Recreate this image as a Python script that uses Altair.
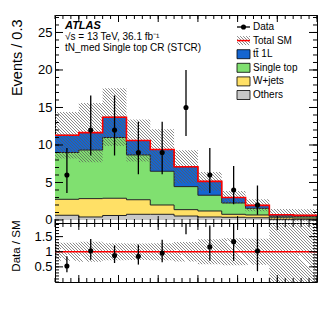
import altair as alt
import pandas as pd
import math

# ---------------- data ----------------
edges = [1.2, 1.5, 1.8, 2.1, 2.4, 2.7, 3.0, 3.3, 3.6, 3.9, 4.2, 4.5]
others    = [0.63, 0.40, 0.60, 0.76, 0.76, 0.53, 0.40, 0.36, 0.30, 0.05, 0.05]
wjets     = [2.13, 2.45, 2.30, 1.94, 1.24, 0.85, 0.80, 0.40, 0.37, 0.25, 0.20]
singletop = [6.24, 6.48, 8.10, 5.97, 4.50, 3.07, 2.10, 1.51, 0.88, 0.20, 0.20]
ttbar     = [2.30, 2.32, 2.70, 1.93, 2.90, 2.65, 1.85, 0.73, 0.40, 0.20, 0.17]
sm_unc    = [3.10, 3.95, 3.85, 2.80, 2.70, 2.20, 1.25, 0.87, 0.80, 0.76, 0.81]
ratio_unc = [0.30, 0.33, 0.28, 0.27, 0.28, 0.32, 0.41, 0.45, 0.43, 1.10, 1.10]
data      = [6, 12, 12, 9, 9, 15, 6, 4, 2, None, None]
data_hi   = [9.6, 16.6, 16.6, 13.1, 13.1, 20.0, 9.6, 7.2, 4.6, None, None]
data_lo   = [3.6, 8.6, 8.6, 6.1, 6.1, 11.2, 3.6, 2.1, 0.7, None, None]

comp_names  = ["Others", "W+jets", "Single top", "tt\u0304 1L"]      # stack order (bottom -> top)
comp_colors = ["#c8c8c8", "#ffe066", "#80e070", "#1565d0"]
legend_labels = ["Data", "Total SM", "tt\u0304 1L", "Single top", "W+jets", "Others"]
ann_text = ["ATLAS", "\u221as = 13 TeV, 36.1 fb\u207b\u00b9", "tN_med Single top CR (STCR)"]

x_major = [1.5, 2.0, 2.5, 3.0, 3.5, 4.0, 4.5]
main_y_major = [0, 5, 10, 15, 20, 25]
rat_y_major = [0.5, 1.0, 1.5]

# ---------------- layout ----------------
W, H_MAIN, H_RAT = 262, 208, 59
X_DOM = [1.2, 4.5]
Y_MAIN = [-0.4, 27.33]
Y_RAT = [0.0, 1.95]
FONT = "Liberation Sans"

n = len(edges) - 1
x_minor = [round(1.2 + 0.1 * i, 2) for i in range(34)]
main_y_minor = list(range(0, 28))
rat_y_minor = [round(0.1 * i, 2) for i in range(20)]

total = [a + b + c + d for a, b, c, d in zip(others, wjets, singletop, ttbar)]
centers = [(edges[i] + edges[i + 1]) / 2 for i in range(n)]


def step_idx(i):
    return min(i, n - 1)


# stacked components
rows = []
cum = [0.0] * n
for name, vals in zip(comp_names, [others, wjets, singletop, ttbar]):
    hi = [c + v for c, v in zip(cum, vals)]
    for i in range(n + 1):
        j = step_idx(i)
        rows.append(dict(x=edges[i], lo=cum[j], hi=hi[j], comp=name))
    cum = hi
stack_df = pd.DataFrame(rows)

tot_df = pd.DataFrame([dict(x=edges[i], v=total[step_idx(i)]) for i in range(n + 1)])
band_df = pd.DataFrame([dict(x=edges[i],
                             top=total[step_idx(i)] + sm_unc[step_idx(i)],
                             bot=max(total[step_idx(i)] - sm_unc[step_idx(i)], Y_MAIN[0]))
                        for i in range(n + 1)])
rband_df = pd.DataFrame([dict(x=edges[i],
                              top=min(1 + ratio_unc[step_idx(i)], Y_RAT[1]),
                              bot=max(1 - ratio_unc[step_idx(i)], Y_RAT[0]))
                         for i in range(n + 1)])

pts = pd.DataFrame(dict(xc=centers, d=data, hi=data_hi, lo=data_lo, tot=total)).dropna()
pts["r"] = pts["d"] / pts["tot"]
pts["rhi"] = pts["hi"] / pts["tot"]
pts["rlo"] = pts["lo"] / pts["tot"]


def hatch(Wb, Hb, period=3.0, frac=0.33, color="rgba(90,90,90,0.7)"):
    k = (Wb + Hb) / (Wb ** 2 + Hb ** 2)
    nper = (Wb + Hb) / period
    clear = "rgba(255,255,255,0)"
    stops = []
    i = 0
    while i / nper < 1:
        t0 = i / nper
        t1 = min((i + frac) / nper, 1.0)
        t2 = min((i + 1) / nper, 1.0)
        stops += [alt.GradientStop(offset=t0, color=color),
                  alt.GradientStop(offset=t1, color=color),
                  alt.GradientStop(offset=t1, color=clear),
                  alt.GradientStop(offset=t2, color=clear)]
        i += 1
    return alt.LinearGradient(gradient="linear", stops=stops,
                              x1=0, y1=1, x2=k * Wb, y2=1 - k * Hb)


def py(v, dom, H):
    return H * (dom[1] - v) / (dom[1] - dom[0])


xscale = alt.Scale(domain=X_DOM, nice=False, zero=False)
yscale_main = alt.Scale(domain=Y_MAIN, nice=False, zero=False)
yscale_rat = alt.Scale(domain=Y_RAT, nice=False, zero=False)

yaxis_main = alt.Axis(values=main_y_major, title="Events / 0.3", ticks=False, domain=False,
                      grid=False, labelFontSize=13, labelPadding=3, labelFont=FONT,
                      titleFont=FONT, titleFontSize=14.5, titleFontWeight="normal",
                      titleAngle=270, titleAlign="right", titleBaseline="alphabetic",
                      titleX=-34, titleY=4)
yaxis_rat = alt.Axis(values=rat_y_major, format="~g", title="Data / SM", ticks=False, domain=False,
                     grid=False, labelFontSize=13, labelPadding=3, labelFont=FONT,
                     titleFont=FONT, titleFontSize=11.5, titleFontWeight="normal",
                     titleAngle=270, titleAlign="right", titleBaseline="alphabetic",
                     titleX=-36, titleY=-3, labelFlush=False)
xaxis_rat = alt.Axis(values=x_major, format="~g", title="\u0394R(b\u2081, b\u2082)", ticks=False,
                     domain=False, grid=False, labelFontSize=13, labelPadding=0, labelFont=FONT,
                     labelFlush=False, labelOverlap=False,
                     titleFont=FONT, titleFontSize=13, titleFontWeight="normal",
                     titleAlign="right", titleBaseline="alphabetic", titleX=W + 4, titleY=29)


def X(f, axis=None):
    return alt.X(f, type="quantitative", scale=xscale, axis=axis)


def tick_layers(ymaj, ymin, ysc, yax, H, ly=(8, 4), lx=(7, 4)):
    layers = []
    for vals, L in [(ymaj, ly[0]), (ymin, ly[1])]:
        base = alt.Chart(pd.DataFrame({"tv": vals})).mark_rule(color="black", strokeWidth=1)
        yy = alt.Y("tv", type="quantitative", scale=ysc, axis=yax)
        layers.append(base.encode(y=yy, x=alt.value(0), x2=alt.value(L)))
        layers.append(base.encode(y=yy, x=alt.value(W), x2=alt.value(W - L)))
    for vals, L in [(x_major, lx[0]), (x_minor, lx[1])]:
        base = alt.Chart(pd.DataFrame({"tx": vals})).mark_rule(color="black", strokeWidth=1)
        xx = alt.X("tx", type="quantitative", scale=xscale, axis=None)
        layers.append(base.encode(x=xx, y=alt.value(0), y2=alt.value(L)))
        layers.append(base.encode(x=xx, y=alt.value(H), y2=alt.value(H - L)))
    return layers


def YM(f):
    return alt.Y(f, type="quantitative", scale=yscale_main, axis=yaxis_main)


def YR(f):
    return alt.Y(f, type="quantitative", scale=yscale_rat, axis=yaxis_rat)


# ---------------- main panel ----------------
areas = alt.Chart(stack_df).mark_area(interpolate="step-after").encode(
    x=X("x"), y=YM("hi"), y2="lo",
    color=alt.Color("comp:N", scale=alt.Scale(domain=comp_names, range=comp_colors), legend=None))
outlines = alt.Chart(stack_df).mark_line(interpolate="step-after", color="#222", strokeWidth=1).encode(
    x=X("x"), y=YM("hi"), detail="comp:N")

band_top_px = py(max(band_df["top"]), Y_MAIN, H_MAIN)
band_bot_px = py(min(band_df["bot"]), Y_MAIN, H_MAIN)
band = alt.Chart(band_df).mark_area(interpolate="step-after",
                                    fill=hatch(W, band_bot_px - band_top_px)).encode(
    x=X("x"), y=YM("top"), y2="bot")
totline = alt.Chart(tot_df).mark_line(interpolate="step-after", color="#ff0000", strokeWidth=1.6).encode(
    x=X("x"), y=YM("v"))
err = alt.Chart(pts).mark_rule(color="black", strokeWidth=1.3).encode(x=X("xc"), y=YM("hi"), y2="lo")
dots = alt.Chart(pts).mark_circle(color="black", size=26, opacity=1).encode(x=X("xc"), y=YM("d"))

ann_x = 10
ann = [
    alt.Chart(pd.DataFrame({"t": [ann_text[0]]})).mark_text(
        align="left", baseline="alphabetic", font=FONT, fontSize=11, fontWeight="bold",
        fontStyle="italic", color="black").encode(text="t:N", x=alt.value(ann_x), y=alt.value(14)),
    alt.Chart(pd.DataFrame({"t": [ann_text[1]]})).mark_text(
        align="left", baseline="alphabetic", font=FONT, fontSize=10, color="black").encode(
        text="t:N", x=alt.value(ann_x), y=alt.value(25)),
    alt.Chart(pd.DataFrame({"t": [ann_text[2]]})).mark_text(
        align="left", baseline="alphabetic", font=FONT, fontSize=10, color="black").encode(
        text="t:N", x=alt.value(ann_x), y=alt.value(36)),
]

# legend (drawn by hand, ATLAS style)
LX0, LX1, LY0, LDY, BH = 182, 195, 12, 13.6, 4.5
leg_df = pd.DataFrame({"label": legend_labels,
                       "py": [LY0 + LDY * i for i in range(len(legend_labels))]})
leg_df["y0"] = leg_df["py"] - BH
leg_df["y1"] = leg_df["py"] + BH
box_df = leg_df.iloc[2:].copy()
box_df["c"] = [comp_colors[comp_names.index(l)] for l in box_df["label"]]

leg_text = alt.Chart(leg_df).mark_text(align="left", baseline="middle", font=FONT, fontSize=10,
                                       color="black").encode(
    text="label:N", x=alt.value(LX1 + 3), y=alt.Y("py:Q", scale=None))
leg_boxes = alt.Chart(box_df).mark_rect(stroke="black", strokeWidth=0.8).encode(
    x=alt.value(LX0), x2=alt.value(LX1), y=alt.Y("y0:Q", scale=None), y2="y1:Q",
    fill=alt.Color("c:N", scale=None))
tot_leg = leg_df.iloc[[1]]
leg_hatch = alt.Chart(tot_leg).mark_rect(fill=hatch(LX1 - LX0, 2 * BH)).encode(
    x=alt.value(LX0), x2=alt.value(LX1), y=alt.Y("y0:Q", scale=None), y2="y1:Q")
leg_red = alt.Chart(tot_leg).mark_rule(color="#ff0000", strokeWidth=1.5).encode(
    x=alt.value(LX0), x2=alt.value(LX1), y=alt.Y("py:Q", scale=None))
data_leg = leg_df.iloc[[0]]
leg_dline = alt.Chart(data_leg).mark_rule(color="black", strokeWidth=1.3).encode(
    x=alt.value(LX0), x2=alt.value(LX1), y=alt.Y("py:Q", scale=None))
leg_ddot = alt.Chart(data_leg).mark_circle(color="black", size=26, opacity=1).encode(
    x=alt.value((LX0 + LX1) / 2), y=alt.Y("py:Q", scale=None))

main = alt.layer(
    areas, outlines, band, totline, err, dots,
    *tick_layers(main_y_major, main_y_minor, yscale_main, yaxis_main, H_MAIN),
    *ann, leg_hatch, leg_red, leg_boxes, leg_dline, leg_ddot, leg_text,
).properties(width=W, height=H_MAIN)

# ---------------- ratio panel ----------------
rb_top_px = py(max(rband_df["top"]), Y_RAT, H_RAT)
rb_bot_px = py(min(rband_df["bot"]), Y_RAT, H_RAT)
rband = alt.Chart(rband_df).mark_area(interpolate="step-after",
                                      fill=hatch(W, rb_bot_px - rb_top_px)).encode(
    x=X("x", axis=xaxis_rat), y=YR("top"), y2="bot")
one = alt.Chart(pd.DataFrame({"o": [1.0]})).mark_rule(color="#ff0000", strokeWidth=1.6).encode(
    y=YR("o"))
rerr = alt.Chart(pts).mark_rule(color="black", strokeWidth=1.3, clip=True).encode(
    x=X("xc", axis=xaxis_rat), y=YR("rhi"), y2="rlo")
rdots = alt.Chart(pts).mark_circle(color="black", size=26, opacity=1, clip=True).encode(
    x=X("xc", axis=xaxis_rat), y=YR("r"))

ratio = alt.layer(
    rband, one, rerr, rdots,
    *tick_layers(rat_y_major, rat_y_minor, yscale_rat, yaxis_rat, H_RAT, ly=(8, 4), lx=(7, 4)),
).properties(width=W, height=H_RAT)

chart = alt.vconcat(main, ratio, spacing=0, bounds="flush").properties(
    padding={"left": 0, "top": 6, "right": 0, "bottom": 0}
).configure(font=FONT).configure_view(stroke="black", strokeWidth=1)

chart.save("out.html", embed_options={"renderer": "svg", "actions": False})
